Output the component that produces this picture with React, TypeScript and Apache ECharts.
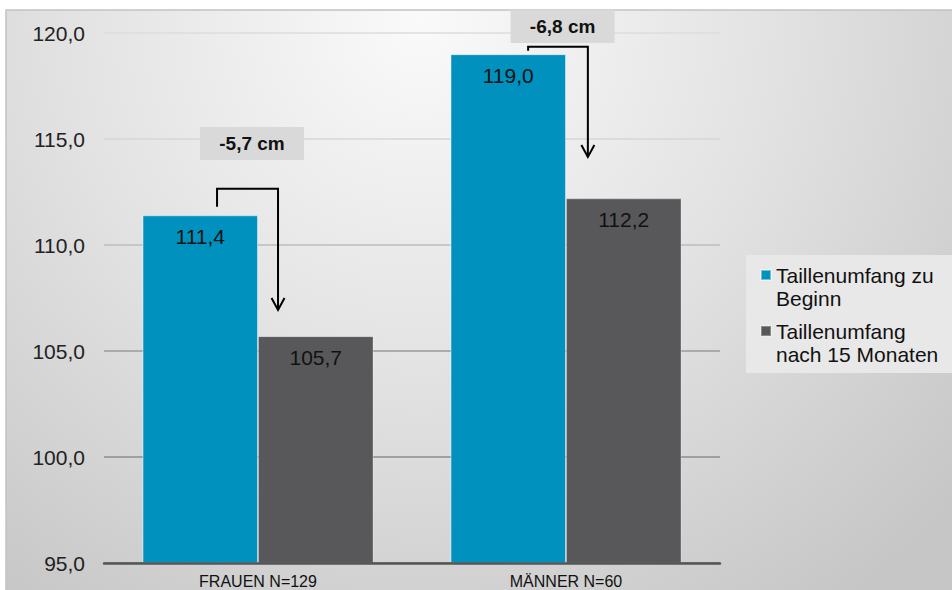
import React, { useEffect, useRef } from "react";
import * as echarts from "echarts";

// ---- data ----
const categories = ["FRAUEN N=129", "MÄNNER N=60"];
const legendLabels = ["Taillenumfang zu\nBeginn", "Taillenumfang\nnach 15 Monaten"];
const seriesNames = legendLabels.map((s) => s.replace("\n", " "));
const beginValues = [111.4, 119.0];
const after15Values = [105.7, 112.2];
const yMin = 95;
const yMax = 120;
const yInterval = 5;

// ---- styling / layout constants ----
const FONT = "'Liberation Sans', Arial, sans-serif";
const BLUE = "#0091BE";
const GRAY = "#58585A";
const GRID_COLORS = ["#8a8a8a", "#8c8c8c", "#9a9a9a", "#bdbdbd", "#d6d6d6", "#dddddd"];
// annotation layout (offsets relative to category band / bar tops, in px)
const ANNOT_LAYOUT = [
  { left: -0.133, right: 0.065, startGap: 8.6, topGap: 26.6, endGap: 26.2, boxDx: -0.0195, boxGap: 45.2 },
  { left: -0.123, right: 0.071, startGap: 3.5, topGap: 7.5, endGap: 41.4, boxDx: -0.011, boxGap: 20.2 },
];

const fmt1 = (v: number) => v.toFixed(1).replace(".", ",");

export default function App() {
  const ref = useRef<HTMLDivElement>(null);

  useEffect(() => {
    document.body.style.margin = "0";
    if (!ref.current) return;
    const chart = echarts.init(ref.current, undefined, { renderer: "svg" });

    const legendMap: Record<string, string> = {};
    seriesNames.forEach((n, i) => (legendMap[n] = " \n" + legendLabels[i]));

    const annotData = categories.map((_, i) => [i, beginValues[i], after15Values[i]]);

    const barLabel = {
      show: true,
      position: "insideTop",
      distance: 11,
      color: "#111",
      fontSize: 21,
      fontFamily: FONT,
      formatter: (p: any) => fmt1(p.value),
    };

    chart.setOption({
      animation: false,
      backgroundColor: "#ffffff",
      graphic: [
        {
          type: "rect",
          z: -100,
          silent: true,
          shape: { x: 6, y: 10, width: 960, height: 600 },
          style: {
            fill: new echarts.graphic.RadialGradient(
              420,
              20,
              720,
              [
                { offset: 0, color: "#fafafa" },
                { offset: 0.5, color: "#e2e2e2" },
                { offset: 1, color: "#c6c6c6" },
              ],
              true
            ),
            stroke: "#c2c2c2",
            lineWidth: 1.5,
          },
        },
        {
          type: "rect",
          z: -99,
          silent: true,
          shape: { x: 746, y: 255, width: 210, height: 118 },
          style: { fill: "#e8e8e8" },
        },
      ],
      grid: { left: 104, right: 232, top: 33, bottom: 27, containLabel: false },
      legend: {
        orient: "vertical",
        left: 760,
        top: 240.5,
        padding: 0,
        itemGap: -13,
        itemWidth: 10,
        itemHeight: 10,
        icon: "rect",
        data: seriesNames,
        formatter: (name: string) => legendMap[name] ?? name,
        textStyle: {
          fontFamily: FONT,
          fontSize: 21,
          lineHeight: 23,
          color: "#111",
        },
      },
      xAxis: {
        type: "category",
        data: categories,
        axisLine: { show: true, lineStyle: { color: "#555555", width: 2.5 } },
        axisTick: { show: false },
        axisLabel: { fontFamily: FONT, fontSize: 16, color: "#111", margin: 10 },
        z: 5,
      },
      yAxis: {
        type: "value",
        min: yMin,
        max: yMax,
        interval: yInterval,
        axisLine: { show: false },
        axisTick: { show: false },
        axisLabel: {
          fontFamily: FONT,
          fontSize: 21,
          color: "#222",
          margin: 19,
          formatter: (v: number) => fmt1(v),
        },
        splitLine: { show: true, lineStyle: { color: GRID_COLORS, width: 1.5 } },
      },
      series: [
        {
          name: seriesNames[0],
          type: "bar",
          data: beginValues,
          barGap: "0%",
          barCategoryGap: "25%",
          itemStyle: { color: BLUE, borderColor: "rgba(255,255,255,0.45)", borderWidth: 1 },
          label: barLabel,
        },
        {
          name: seriesNames[1],
          type: "bar",
          data: after15Values,
          barGap: "0%",
          barCategoryGap: "25%",
          itemStyle: { color: GRAY, borderColor: "rgba(255,255,255,0.3)", borderWidth: 1 },
          label: barLabel,
        },
        {
          type: "custom",
          name: "diff",
          data: annotData,
          z: 10,
          clip: false,
          silent: true,
          encode: { x: 0, y: [1, 2] },
          renderItem: (params: any, api: any) => {
            const cat = api.value(0);
            const before = api.value(1);
            const after = api.value(2);
            const L = ANNOT_LAYOUT[params.dataIndex];
            const [cx, yBefore] = api.coord([cat, before]);
            const yAfter = api.coord([cat, after])[1];
            const band = api.size([1, 0])[0];
            const xl = cx + L.left * band;
            const xr = cx + L.right * band;
            const yStart = yBefore - L.startGap;
            const yTop = yBefore - L.topGap;
            const yEnd = yAfter - L.endGap;
            const bx = cx + L.boxDx * band;
            const by = yTop - L.boxGap;
            const text = fmt1(after - before) + " cm";
            return {
              type: "group",
              children: [
                {
                  type: "polyline",
                  shape: { points: [[xl, yStart], [xl, yTop], [xr, yTop], [xr, yEnd]] },
                  style: { stroke: "#000", lineWidth: 2, fill: null },
                },
                {
                  type: "polyline",
                  shape: { points: [[xr - 6.5, yEnd - 12], [xr, yEnd], [xr + 6.5, yEnd - 12]] },
                  style: { stroke: "#000", lineWidth: 2, fill: null },
                },
                {
                  type: "rect",
                  shape: { x: bx - 52, y: by - 16.5, width: 104, height: 33 },
                  style: { fill: "#d9d9d9" },
                },
                {
                  type: "text",
                  style: {
                    text,
                    x: bx,
                    y: by,
                    align: "center",
                    verticalAlign: "middle",
                    fill: "#111",
                    font: `bold 19px ${FONT}`,
                  },
                },
              ],
            };
          },
        },
      ],
    });

    return () => chart.dispose();
  }, []);

  return <div ref={ref} style={{ width: 952, height: 590 }} />;
}
